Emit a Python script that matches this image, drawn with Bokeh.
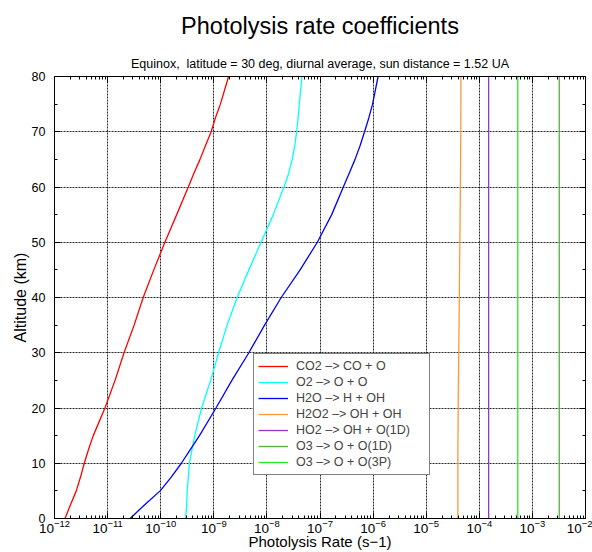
from bokeh.plotting import figure
from bokeh.models import (LogAxis, LinearAxis, FixedTicker, Legend, LegendItem,
                          Range1d, CustomJSTickFormatter, Title)
from bokeh.embed import file_html
from bokeh.resources import INLINE

# ---------------- data ----------------
altitude_km = [0, 2.5, 5, 7.5, 10, 12.5, 15, 20, 25, 30, 35, 40, 45, 50, 55, 60,
               62.5, 65, 67.5, 70, 72.5, 75, 80]

j_co2 = [1.58e-12, 2.00e-12, 2.57e-12, 3.09e-12, 3.63e-12, 4.37e-12, 5.37e-12, 8.91e-12,
         1.38e-11, 2.04e-11, 3.16e-11, 4.68e-11, 7.41e-11, 1.20e-10, 2.00e-10, 3.31e-10,
         4.22e-10, 5.50e-10, 6.98e-10, 8.91e-10, 1.07e-9, 1.33e-9, 1.90e-9]
j_o2 = [2.95e-10, 3.09e-10, 3.16e-10, 3.31e-10, 3.47e-10, 3.89e-10, 4.37e-10, 5.89e-10,
        8.71e-10, 1.23e-9, 1.78e-9, 2.75e-9, 4.57e-9, 7.76e-9, 1.32e-8, 2.09e-8,
        2.58e-8, 2.99e-8, 3.35e-8, 3.63e-8, 3.87e-8, 4.07e-8, 4.57e-8]
j_h2o = [2.66e-11, 5.00e-11, 9.77e-11, 1.58e-10, 2.45e-10, 3.63e-10, 5.37e-10, 1.10e-9,
         2.19e-9, 4.57e-9, 9.04e-9, 1.86e-8, 4.22e-8, 8.91e-8, 1.66e-7, 2.75e-7,
         3.55e-7, 4.57e-7, 5.70e-7, 6.90e-7, 8.30e-7, 9.77e-7, 1.24e-6]
j_h2o2 = [3.95e-5, 3.95e-5, 3.95e-5, 3.95e-5, 3.95e-5, 3.95e-5, 3.97e-5, 4.00e-5,
          4.05e-5, 4.10e-5, 4.15e-5, 4.20e-5, 4.25e-5, 4.30e-5, 4.35e-5, 4.40e-5,
          4.42e-5, 4.45e-5, 4.46e-5, 4.48e-5, 4.49e-5, 4.50e-5, 4.50e-5]
j_ho2 = [1.5e-4, 1.5e-4, 1.5e-4, 1.5e-4, 1.5e-4, 1.5e-4, 1.5e-4, 1.5e-4, 1.5e-4,
         1.5e-4, 1.5e-4, 1.5e-4, 1.5e-4, 1.5e-4, 1.5e-4, 1.5e-4, 1.5e-4, 1.5e-4,
         1.5e-4, 1.5e-4, 1.5e-4, 1.5e-4, 1.5e-4]
j_o3_o1d = [3.2e-3, 3.2e-3, 3.2e-3, 3.2e-3, 3.2e-3, 3.2e-3, 3.2e-3, 3.2e-3, 3.2e-3,
            3.2e-3, 3.2e-3, 3.2e-3, 3.2e-3, 3.2e-3, 3.2e-3, 3.2e-3, 3.2e-3, 3.2e-3,
            3.2e-3, 3.2e-3, 3.2e-3, 3.2e-3, 3.2e-3]
j_o3_o3p = [5.3e-4, 5.3e-4, 5.3e-4, 5.3e-4, 5.3e-4, 5.3e-4, 5.3e-4, 5.3e-4, 5.3e-4,
            5.3e-4, 5.3e-4, 5.3e-4, 5.3e-4, 5.3e-4, 5.3e-4, 5.3e-4, 5.3e-4, 5.3e-4,
            5.3e-4, 5.3e-4, 5.3e-4, 5.3e-4, 5.3e-4]

series_labels = ["CO2 \u2013> CO + O", "O2 \u2013> O + O", "H2O \u2013> H + OH",
                 "H2O2 \u2013> OH + OH", "HO2 \u2013> OH + O(1D)",
                 "O3 \u2013> O + O(1D)", "O3 \u2013> O + O(3P)"]
series_values = [j_co2, j_o2, j_h2o, j_h2o2, j_ho2, j_o3_o1d, j_o3_o3p]
series_colors = ["#ff0000", "#00ffff", "#0000ff", "#ff9933", "#9933cc", "#55b03a", "#22ee22"]

x_decade_exps = [-12, -11, -10, -9, -8, -7, -6, -5, -4, -3, -2]
y_major = [0, 10, 20, 30, 40, 50, 60, 70, 80]
y_minor = [5, 15, 25, 35, 45, 55, 65, 75]

title_text = "Photolysis rate coefficients"
subtitle_text = "Equinox,\u00a0 latitude = 30 deg, diurnal average, sun distance = 1.52 UA"
xlabel_text = "Photolysis Rate (s\u22121)"
ylabel_text = "Altitude (km)"

FONT = "Liberation Sans"

# ---------------- figure ----------------
p = figure(width=592, height=552, x_axis_type="log",
           x_range=Range1d(1e-12, 1e-2), y_range=Range1d(0, 80),
           output_backend="svg", toolbar_location=None,
           min_border_left=54, min_border_right=7, min_border_top=74, min_border_bottom=34)
p.outline_line_color = "black"
p.outline_line_width = 1
p.background_fill_color = "white"
p.border_fill_color = "white"

x_major = [10.0 ** e for e in x_decade_exps]
x_minor = [m * 10.0 ** e for e in x_decade_exps[:-1] for m in range(2, 10)]
xticker = FixedTicker(ticks=x_major, minor_ticks=x_minor)
yticker = FixedTicker(ticks=y_major, minor_ticks=y_minor)

p.xaxis.ticker = xticker
p.yaxis.ticker = yticker


def style_axis(ax, label_size):
    ax.axis_line_color = "black"
    ax.axis_line_width = 1
    ax.major_tick_line_color = "black"
    ax.minor_tick_line_color = "black"
    ax.major_tick_in = 6
    ax.major_tick_out = 0
    ax.minor_tick_in = 3
    ax.minor_tick_out = 0
    ax.major_label_text_font = FONT
    ax.major_label_text_font_size = label_size
    ax.major_label_text_color = "black"
    ax.axis_label_text_font = FONT
    ax.axis_label_text_font_style = "normal"
    ax.axis_label_text_color = "black"


for ax in p.xaxis:
    style_axis(ax, "13.5px")
    ax.major_label_standoff = 1
    ax.axis_label = xlabel_text
    ax.axis_label_text_font_size = "15px"
    ax.axis_label_standoff = -3
for ax in p.yaxis:
    style_axis(ax, "12.5px")
    ax.major_label_standoff = 9
    ax.axis_label = ylabel_text
    ax.axis_label_text_font_size = "16px"
    ax.axis_label_standoff = 0

blank = CustomJSTickFormatter(code="return ''")
top_axis = LogAxis(ticker=xticker, formatter=blank)
style_axis(top_axis, "1px")
top_axis.major_label_standoff = 0
right_axis = LinearAxis(ticker=yticker, formatter=blank)
style_axis(right_axis, "1px")
right_axis.major_label_standoff = 0
p.add_layout(top_axis, "above")
p.add_layout(right_axis, "right")

# titles: subtitle just above the frame, main title outermost
p.add_layout(Title(text=subtitle_text, align="center", text_font=FONT,
                   text_font_size="12.5px", text_font_style="normal",
                   text_color="black", standoff=12), "above")
p.title.text = title_text
p.title.align = "center"
p.title.text_font = FONT
p.title.text_font_size = "23.5px"
p.title.text_font_style = "normal"
p.title.text_color = "black"
p.title.standoff = 20

for g in (p.xgrid, p.ygrid):
    g.grid_line_color = "black"
    g.grid_line_dash = "2 1"
    g.grid_line_width = 1
    g.grid_line_alpha = 0.85

# ---------------- lines ----------------
items = []
for lab, vals, col in zip(series_labels, series_values, series_colors):
    r = p.line(x=vals, y=altitude_km, line_color=col, line_width=1.3)
    items.append(LegendItem(label=lab, renderers=[r]))

legend = Legend(items=items, location=(199, 43))
legend.border_line_color = "black"
legend.border_line_width = 1
legend.background_fill_color = "white"
legend.background_fill_alpha = 1.0
legend.label_text_font = FONT
legend.label_text_font_size = "12.5px"
legend.glyph_width = 30
legend.glyph_height = 16
legend.label_height = 16
legend.label_standoff = 8
legend.label_width = 129
legend.spacing = 0
legend.padding = 4
legend.margin = 0
p.add_layout(legend)

open("out.html", "w").write(file_html(p, INLINE))
